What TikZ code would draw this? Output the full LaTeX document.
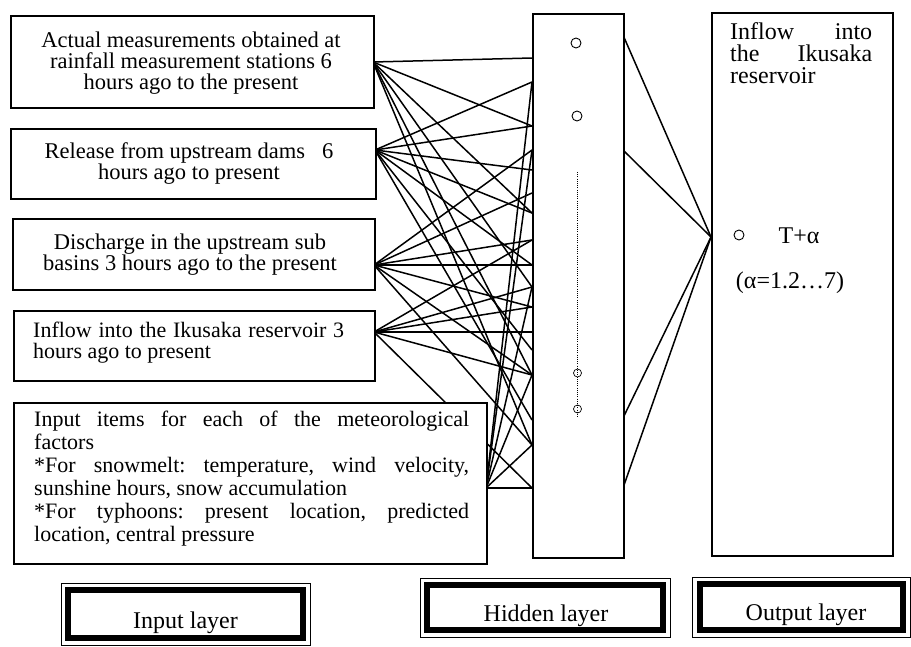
\documentclass[tikz,border=0pt]{standalone}
\usepackage{fontspec}
\setmainfont{Liberation Serif}
\usetikzlibrary{backgrounds,calc}
\newcommand\myfs[2]{\fontsize{#1}{#2}\selectfont}
\frenchspacing
\begin{document}
\begin{tikzpicture}[x=1pt,y=-1pt,
  box/.style={draw, fill=white, line width=1.5pt, inner sep=0pt, anchor=north west},
  txt/.style={inner sep=0pt},
  conn/.style={line width=1.5pt},
  neuron/.style={circle, draw, line width=0.9pt, inner sep=0pt, minimum size=10pt},
  smallneuron/.style={circle, draw, line width=0.7pt, inner sep=0pt, minimum size=8pt},
  lay/.style={draw, line width=0.8pt, inner sep=0pt, fill=white},
  thick frame/.style={line width=6pt},
  laytext/.style={inner sep=0pt, anchor=base, font=\myfs{24}{24}}]
\useasboundingbox (0,0) rectangle (911,646);

% boxes
\node[box, minimum width=363pt, minimum height=92pt] (b1) at (10,15) {};
\node[box, minimum width=365pt, minimum height=70pt] (b2) at (10,128) {};
\node[box, minimum width=362pt, minimum height=71pt] (b3) at (12,218) {};
\node[box, minimum width=361pt, minimum height=70pt] (b4) at (13,310) {};
\node[box, minimum width=473pt, minimum height=161pt] (b5) at (13,402) {};
\node[box, minimum width=91pt, minimum height=544pt] (hid) at (532,13) {};
\node[box, minimum width=181pt, minimum height=543pt] (out) at (711,12) {};

% ports
\coordinate (p1) at (373,62);
\coordinate (p2) at (375,150);
\coordinate (p3) at (374,265);
\coordinate (p4) at (374,332);
\coordinate (p5) at (486,488);
\foreach \y in {58,82,126,150,170,193,213,240,265,287,307,332,350,375,420,445,488}
  \coordinate (h\y) at (532,\y);
\foreach \y in {35,150,418,488}
  \coordinate (r\y) at (623,\y);
\coordinate (o) at (711,237);

\begin{scope}[on background layer]
  \foreach \t in {58,126,213,287,375,445} \draw[conn] (p1) -- (h\t);
  \foreach \t in {82,126,170,213,265,350,420} \draw[conn] (p2) -- (h\t);
  \foreach \t in {150,193,240,265,307,375,445} \draw[conn] (p3) -- (h\t);
  \foreach \t in {240,287,307,332,375,488} \draw[conn] (p4) -- (h\t);
  \foreach \t in {82,150,287,375,445,488} \draw[conn] (p5) -- (h\t);
  \foreach \t in {35,150,418,488} \draw[conn] (r\t) -- (o);
\end{scope}

% texts
\node[txt, align=center, font=\myfs{22.5}{21}] (t1) at (191,63)
  {Actual measurements obtained at\\rainfall measurement stations 6\\hours ago to the present};
\node[txt, align=center, font=\myfs{22.5}{21}] (t2) at (189,164)
  {Release from upstream dams\ \ \ 6\\hours ago to present};
\node[txt, align=center, font=\myfs{22.5}{21}] (t3) at (190,255)
  {Discharge in the upstream sub\\basins 3 hours ago to the present};
\node[txt, align=left, font=\myfs{22}{21}, anchor=west] (t4) at (33,343)
  {\makebox[311pt][s]{Inflow into the Ikusaka reservoir 3}\\hours ago to present};
\node[txt, align=left, font=\myfs{22}{23}, anchor=west] (t5) at (34,479)
  {\makebox[435pt][s]{Input items for each of the meteorological}\\
   factors\\
   \makebox[435pt][s]{*For snowmelt: temperature, wind velocity,}\\
   sunshine hours, snow accumulation\\
   \makebox[435pt][s]{*For typhoons: present location, predicted}\\
   location, central pressure};
\node[txt, align=left, font=\myfs{24}{22}, anchor=north west] (t6) at (730,22.5)
  {\makebox[142pt][s]{Inflow into}\\\makebox[142pt][s]{the Ikusaka}\\reservoir};

% output neuron
\node[neuron] (oc) at (739,235) {};
\node[txt, anchor=base, font=\myfs{24}{24}] (t7) at (799,243) {T+α};
\node[txt, anchor=base, font=\myfs{24}{24}] (t8) at (790,288) {(α=1.2…7)};

% hidden neurons
\node[neuron] (hc1) at (576,43) {};
\node[neuron] (hc2) at (577,116) {};
\coordinate (dtop) at (577.5,172);
\coordinate (dbot) at (577.5,418);
\draw[line width=0.9pt, dash pattern=on 1pt off 1.2pt] (dtop) -- (dbot);
\node[smallneuron] (hc3) at (577.5,373) {};
\node[smallneuron] (hc4) at (577.5,409) {};

% layer labels
\node[lay, minimum width=249pt, minimum height=62pt] (inl) at (185.5,614) {};
\node[lay, minimum width=250pt, minimum height=59pt] (hidl) at (545,607.5) {};
\node[lay, minimum width=218pt, minimum height=60pt] (outl) at (801.5,607) {};
\foreach \n in {inl,hidl,outl}
  \draw[thick frame] ($(\n.south west)+(7.5,-7.5)$) rectangle ($(\n.north east)+(-7.5,7.5)$);
\node[laytext] (tin) at (185.5,628) {Input layer};
\node[laytext] (thid) at (546,621) {Hidden layer};
\node[laytext] (tout) at (806,620) {Output layer};
\end{tikzpicture}
\end{document}
